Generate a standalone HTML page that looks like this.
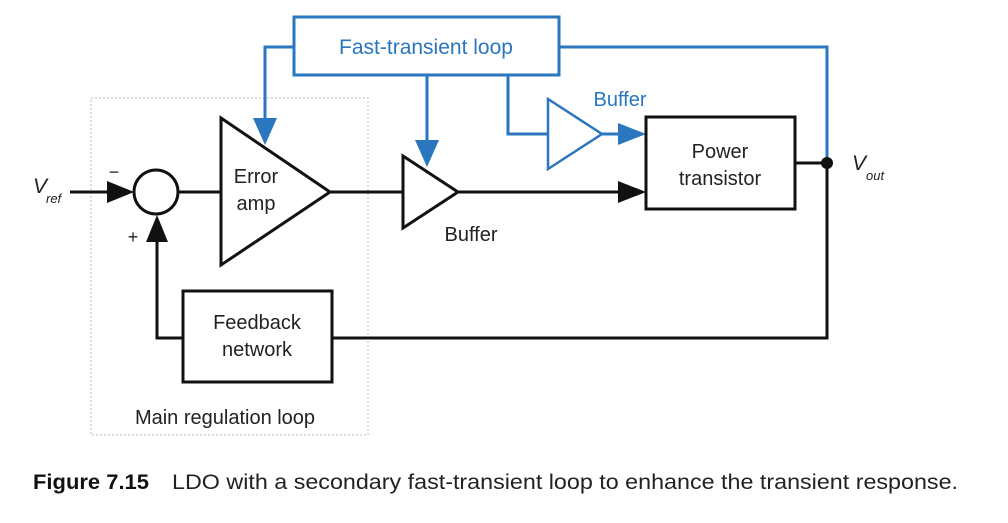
<!DOCTYPE html>
<html><head><meta charset="utf-8"><style>
html,body{margin:0;padding:0;background:#fff;width:1008px;height:523px;overflow:hidden}
svg{display:block}
text{font-family:"Liberation Sans",sans-serif}
</style></head><body>
<svg width="1008" height="523" viewBox="0 0 1008 523" xmlns="http://www.w3.org/2000/svg">
<defs>
<marker id="ab" viewBox="0 0 10 10" refX="10" refY="5" markerWidth="7" markerHeight="7" markerUnits="userSpaceOnUse" orient="auto"><path d="M0,0L10,5L0,10z" fill="#111"/></marker>
<marker id="au" viewBox="0 0 10 10" refX="10" refY="5" markerWidth="7" markerHeight="7" markerUnits="userSpaceOnUse" orient="auto"><path d="M0,0L10,5L0,10z" fill="#2a76bf"/></marker>
</defs>
<!-- dotted main loop box -->
<rect x="91" y="98" width="277" height="337" fill="none" stroke="#bbb" stroke-width="1" stroke-dasharray="2,2"/>
<text x="225" y="424" font-size="20" text-anchor="middle" fill="#222">Main regulation loop</text>

<!-- blue fast transient -->
<g stroke="#2a76bf" stroke-width="3" fill="none">
<rect x="294" y="17" width="265" height="58"/>
<polyline points="294,47 265,47 265,118"/>
<polyline points="427,75 427,140"/>
<polyline points="508,75 508,134 548,134"/>
<polyline points="559,47 827,47 827,163"/>
<polygon points="548,99 602,134 548,169" stroke-width="2.5"/>
<line x1="602" y1="134" x2="620" y2="134"/>
</g>
<path d="M253,118 L277,118 L265,145z" fill="#2a76bf"/>
<path d="M415,140 L439,140 L427,167z" fill="#2a76bf"/>
<path d="M618,123 L646,134 L618,145z" fill="#2a76bf"/>
<text x="426" y="54" font-size="21" text-anchor="middle" fill="#2a76bf">Fast-transient loop</text>
<text x="620" y="106" font-size="20" text-anchor="middle" fill="#2a76bf">Buffer</text>

<!-- black -->
<g stroke="#111" stroke-width="3" fill="none">
<line x1="70" y1="192" x2="110" y2="192"/>
<circle cx="156" cy="192" r="22"/>
<line x1="178" y1="192" x2="221" y2="192"/>
<polygon points="221,118 330,192 221,265"/>
<line x1="330" y1="192" x2="403" y2="192"/>
<polygon points="403,156 458,192 403,228"/>
<line x1="458" y1="192" x2="620" y2="192"/>
<rect x="646" y="117" width="149" height="92"/>
<line x1="795" y1="163" x2="827" y2="163"/>
<polyline points="827,163 827,338 332,338"/>
<rect x="183" y="291" width="149" height="91"/>
<polyline points="183,338 157,338 157,240"/>
</g>
<path d="M107,181 L134,192 L107,203z" fill="#111"/>
<path d="M146,242 L157,215 L168,242z" fill="#111"/>
<path d="M618,181 L646,192 L618,203z" fill="#111"/>
<circle cx="827" cy="163" r="6" fill="#111"/>

<text x="114" y="178" font-size="18" text-anchor="middle" fill="#222">−</text>
<text x="133" y="243" font-size="18" text-anchor="middle" fill="#222">+</text>
<text x="33" y="193" font-size="21" font-style="italic" fill="#222">V</text>
<text x="46" y="203" font-size="13" font-style="italic" fill="#222">ref</text>
<text x="852" y="170" font-size="21" font-style="italic" fill="#222">V</text>
<text x="866" y="180" font-size="13" font-style="italic" fill="#222">out</text>
<text x="256" y="183" font-size="20" text-anchor="middle" fill="#222">Error</text>
<text x="256" y="210" font-size="20" text-anchor="middle" fill="#222">amp</text>
<text x="471" y="241" font-size="20" text-anchor="middle" fill="#222">Buffer</text>
<text x="720" y="158" font-size="20" text-anchor="middle" fill="#222">Power</text>
<text x="720" y="185" font-size="20" text-anchor="middle" fill="#222">transistor</text>
<text x="257" y="329" font-size="20" text-anchor="middle" fill="#222">Feedback</text>
<text x="257" y="356" font-size="20" text-anchor="middle" fill="#222">network</text>

<text x="33" y="489" font-size="21" font-weight="bold" fill="#111" textLength="116" lengthAdjust="spacingAndGlyphs">Figure 7.15</text>
<text x="172" y="489" font-size="21" fill="#222" textLength="786" lengthAdjust="spacingAndGlyphs">LDO with a secondary fast-transient loop to enhance the transient response.</text>
</svg>
</body></html>
